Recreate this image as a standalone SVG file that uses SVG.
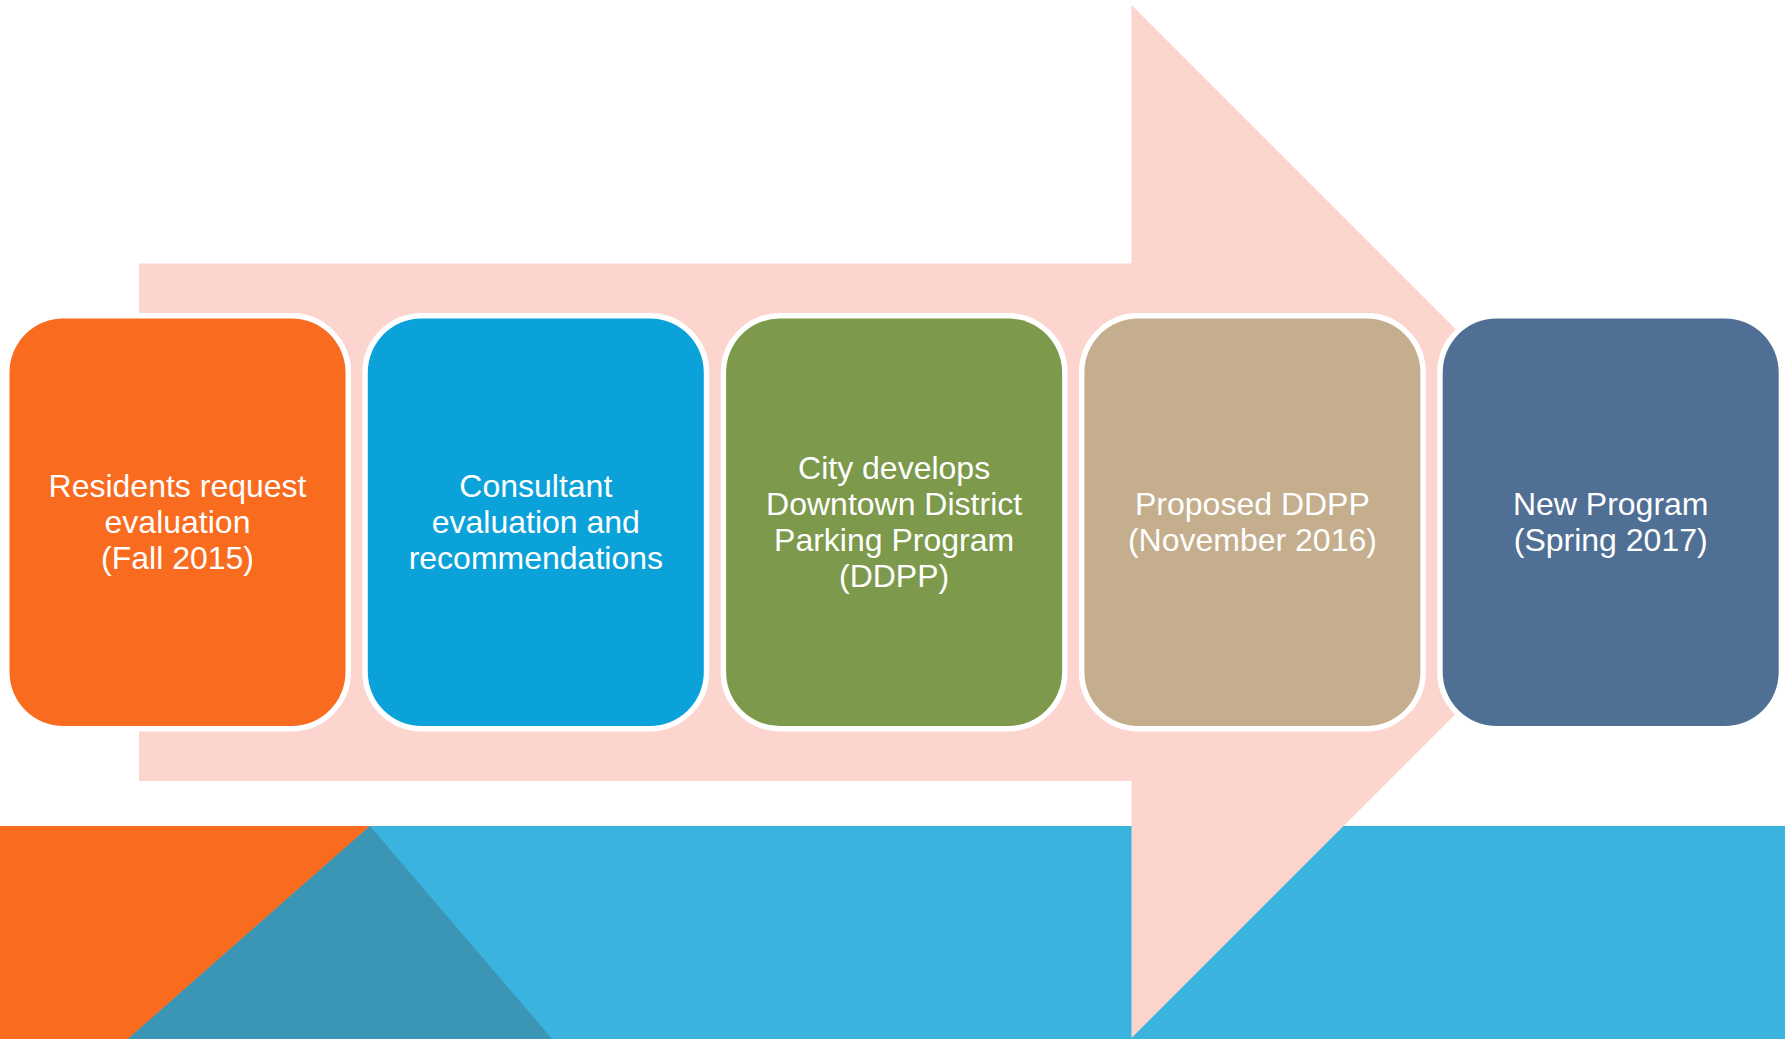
<svg xmlns="http://www.w3.org/2000/svg" width="1785" height="1039" viewBox="0 0 1785 1039">
<style>
.box{stroke:#FFFFFF;stroke-width:11;paint-order:stroke;}
.lbl{font-family:"Liberation Sans",Arial,sans-serif;font-size:32px;fill:#FFFFFF;text-anchor:middle;}
</style>
<rect x="0" y="0" width="1785" height="1039" fill="#FFFFFF"/>
<g id="band">
<rect x="0" y="826" width="1785" height="213" fill="#3BB3DF"/>
<polygon points="0,826 370,826 128,1039 0,1039" fill="#F96B1E"/>
<polygon points="370,826 552,1039 128,1039" fill="#3A96B4"/>
</g>
<g id="connectors">
<polygon points="139,263.5 1131.5,263.5 1131.5,5 1648,521.5 1131.5,1038 1131.5,781 139,781" fill="#FCD5CE"/>
</g>
<g id="node1">
<rect class="box" x="9.5" y="318.5" width="336" height="407.5" rx="54" fill="#F96B1E"/>
<text class="lbl" x="177.5" y="496.5">Residents request</text>
<text class="lbl" x="177.5" y="532.5">evaluation</text>
<text class="lbl" x="177.5" y="568.5">(Fall 2015)</text>
</g>
<g id="node2">
<rect class="box" x="367.8" y="318.5" width="336" height="407.5" rx="54" fill="#0BA2DA"/>
<text class="lbl" x="535.8" y="496.5">Consultant</text>
<text class="lbl" x="535.8" y="532.5">evaluation and</text>
<text class="lbl" x="535.8" y="568.5">recommendations</text>
</g>
<g id="node3">
<rect class="box" x="726.1" y="318.5" width="336" height="407.5" rx="54" fill="#7D994B"/>
<text class="lbl" x="894.1" y="478.5">City develops</text>
<text class="lbl" x="894.1" y="514.5">Downtown District</text>
<text class="lbl" x="894.1" y="550.5">Parking Program</text>
<text class="lbl" x="894.1" y="586.5">(DDPP)</text>
</g>
<g id="node4">
<rect class="box" x="1084.4" y="318.5" width="336" height="407.5" rx="54" fill="#C4AE8D"/>
<text class="lbl" x="1252.4" y="514.5">Proposed DDPP</text>
<text class="lbl" x="1252.4" y="550.5">(November 2016)</text>
</g>
<g id="node5">
<rect class="box" x="1442.7" y="318.5" width="336" height="407.5" rx="54" fill="#506F94"/>
<text class="lbl" x="1610.7" y="514.5">New Program</text>
<text class="lbl" x="1610.7" y="550.5">(Spring 2017)</text>
</g>
</svg>
